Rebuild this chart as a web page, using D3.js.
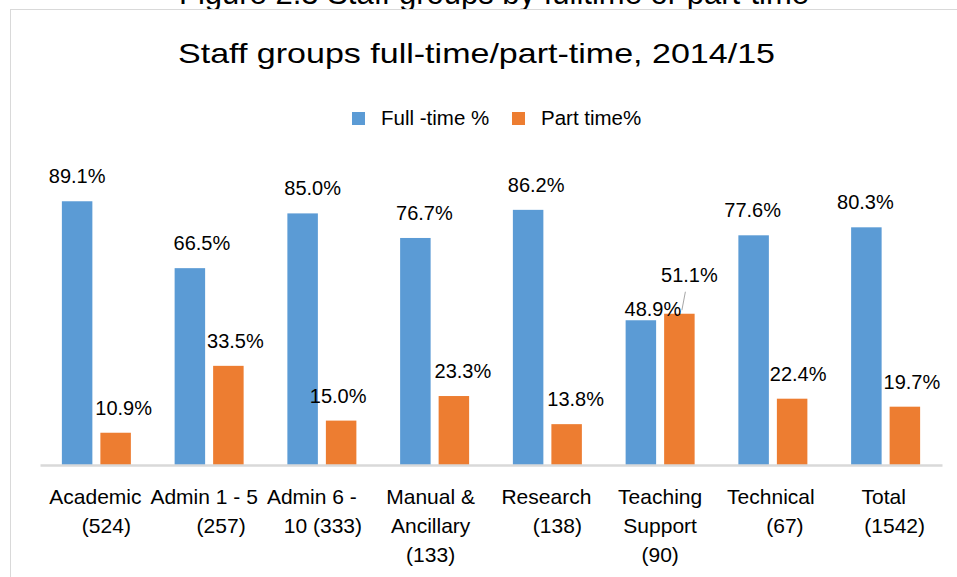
<!DOCTYPE html>
<html>
<head>
<meta charset="utf-8">
<script src="https://cdn.jsdelivr.net/npm/d3@7"></script>
<style>
  html, body { margin: 0; padding: 0; background: #fff; overflow: hidden; }
  text { font-family: "Liberation Sans", Arial, sans-serif; fill: #000; }
</style>
</head>
<body>
<svg id="chart" width="957" height="577"></svg>
<script>
const categories = ["Academic", "Admin 1 - 5", "Admin 6 - 10", "Manual & Ancillary",
  "Research", "Teaching Support", "Technical", "Total"];
const tickLines = [
  ["Academic", "(524)"],
  ["Admin 1 - 5", "(257)"],
  ["Admin 6 -", "10 (333)"],
  ["Manual &", "Ancillary", "(133)"],
  ["Research", "(138)"],
  ["Teaching", "Support", "(90)"],
  ["Technical", "(67)"],
  ["Total", "(1542)"]
];
const seriesNames = ["Full -time %", "Part time%"];
const fullTime = [89.1, 66.5, 85.0, 76.7, 86.2, 48.9, 77.6, 80.3];
const partTime = [10.9, 33.5, 15.0, 23.3, 13.8, 51.1, 22.4, 19.7];

// layout tweaks copied from the way Excel placed the labels
const fullLabelDx = [0, 12, 10, 9, 8, 12, -1, -1];
const partLabelDx = [8, 7, -3, 9, 9, 10, 6, 7];
const fullLabelDy = [0, 0, 0, 0, 0, 14, 0, 0];
const partLabelDy = [0, 0, 0, 0, 0, -14, 0, 0];
const tickLineDx = [
  [-1, 10], [-5, 12], [-10, 1], [-4, -4, -4],
  [-1, 10], [0, 0, 0], [-2, 12], [-2, 9]
];

const colors = ["#5B9BD5", "#ED7D31"];

const svg = d3.select("#chart");

// figure caption, mostly cut off at the top of the crop
svg.append("text")
  .attr("x", 494)
  .attr("y", 4)
  .attr("text-anchor", "middle")
  .style("font-size", "31px")
  .text("Figure 2.3 Staff groups by fulltime or part-time");

// chart area frame
svg.append("rect")
  .attr("x", 10.5)
  .attr("y", 9.5)
  .attr("width", 1000)
  .attr("height", 600)
  .attr("fill", "#fff")
  .attr("stroke", "#d9d9d9")
  .attr("stroke-width", 1);

svg.append("text")
  .attr("x", 476.5)
  .attr("y", 63)
  .attr("text-anchor", "middle")
  .attr("textLength", 597)
  .attr("lengthAdjust", "spacingAndGlyphs")
  .style("font-size", "28px")
  .text("Staff groups full-time/part-time, 2014/15");

// legend
const legend = svg.append("g").attr("transform", "translate(352,112)");
const legendItem = legend.selectAll("g")
  .data(seriesNames)
  .join("g")
  .attr("transform", (d, i) => `translate(${i * 160},0)`);
legendItem.append("rect")
  .attr("width", 13)
  .attr("height", 13)
  .attr("fill", (d, i) => colors[i]);
legendItem.append("text")
  .attr("x", 29)
  .attr("y", 12.5)
  .style("font-size", "20.5px")
  .text(d => d);

const plot = { left: 40, right: 942, top: 169, bottom: 465 };

const x0 = d3.scaleBand()
  .domain(categories)
  .range([plot.left, plot.right])
  .paddingInner(0.388)
  .paddingOuter(0.194);

const x1 = d3.scaleBand()
  .domain([0, 1])
  .range([0, x0.bandwidth()])
  .paddingInner(0.208);

const y = d3.scaleLinear()
  .domain([0, 100])
  .range([plot.bottom, plot.top]);

const rows = categories.map((c, i) => ({
  cat: c,
  i: i,
  vals: [fullTime[i], partTime[i]]
}));

const groups = svg.append("g")
  .selectAll("g")
  .data(rows)
  .join("g")
  .attr("transform", d => `translate(${x0(d.cat)},0)`);

groups.selectAll("rect")
  .data(d => d.vals.map((v, s) => ({ v, s, i: d.i })))
  .join("rect")
  .attr("x", d => x1(d.s))
  .attr("y", d => y(d.v))
  .attr("width", x1.bandwidth())
  .attr("height", d => y(0) - y(d.v))
  .attr("fill", d => colors[d.s]);

// data labels
const labelPos = d => {
  const dx = d.s === 0 ? fullLabelDx[d.i] : partLabelDx[d.i];
  const dy = d.s === 0 ? fullLabelDy[d.i] : partLabelDy[d.i];
  return { x: x1(d.s) + x1.bandwidth() / 2 + dx, y: y(d.v) - 18 + dy };
};

groups.selectAll("text.value")
  .data(d => d.vals.map((v, s) => ({ v, s, i: d.i })))
  .join("text")
  .attr("class", "value")
  .attr("x", d => labelPos(d).x)
  .attr("y", d => labelPos(d).y)
  .attr("text-anchor", "middle")
  .style("font-size", "20px")
  .text(d => d.v.toFixed(1) + "%");

// leader line for the label that was pulled away from its bar
groups.selectAll("line.leader")
  .data(d => d.vals.map((v, s) => ({ v, s, i: d.i }))
    .filter(e => (e.s === 0 ? fullLabelDy[e.i] : partLabelDy[e.i]) < 0))
  .join("line")
  .attr("class", "leader")
  .attr("x1", d => labelPos(d).x - 4)
  .attr("y1", d => labelPos(d).y + 10)
  .attr("x2", d => labelPos(d).x - 7.5)
  .attr("y2", d => y(d.v) - 3.5)
  .attr("stroke", "#a6a6a6")
  .attr("stroke-width", 1);

// category axis
const xAxis = svg.append("g")
  .attr("transform", `translate(0,${plot.bottom})`)
  .call(d3.axisBottom(x0).tickSize(0).tickSizeOuter(0).tickFormat(""));

xAxis.select(".domain")
  .attr("stroke", "#d9d9d9")
  .attr("stroke-width", 2.5);

xAxis.selectAll(".tick text").remove();
xAxis.selectAll(".tick")
  .each(function (d, i) {
    const t = d3.select(this).append("text")
      .attr("text-anchor", "middle")
      .style("font-size", "21px");
    t.selectAll("tspan")
      .data(tickLines[i])
      .join("tspan")
      .attr("x", (line, k) => tickLineDx[i][k])
      .attr("y", (line, k) => 38.5 + k * 29.2)
      .text(line => line);
  });
</script>
</body>
</html>
